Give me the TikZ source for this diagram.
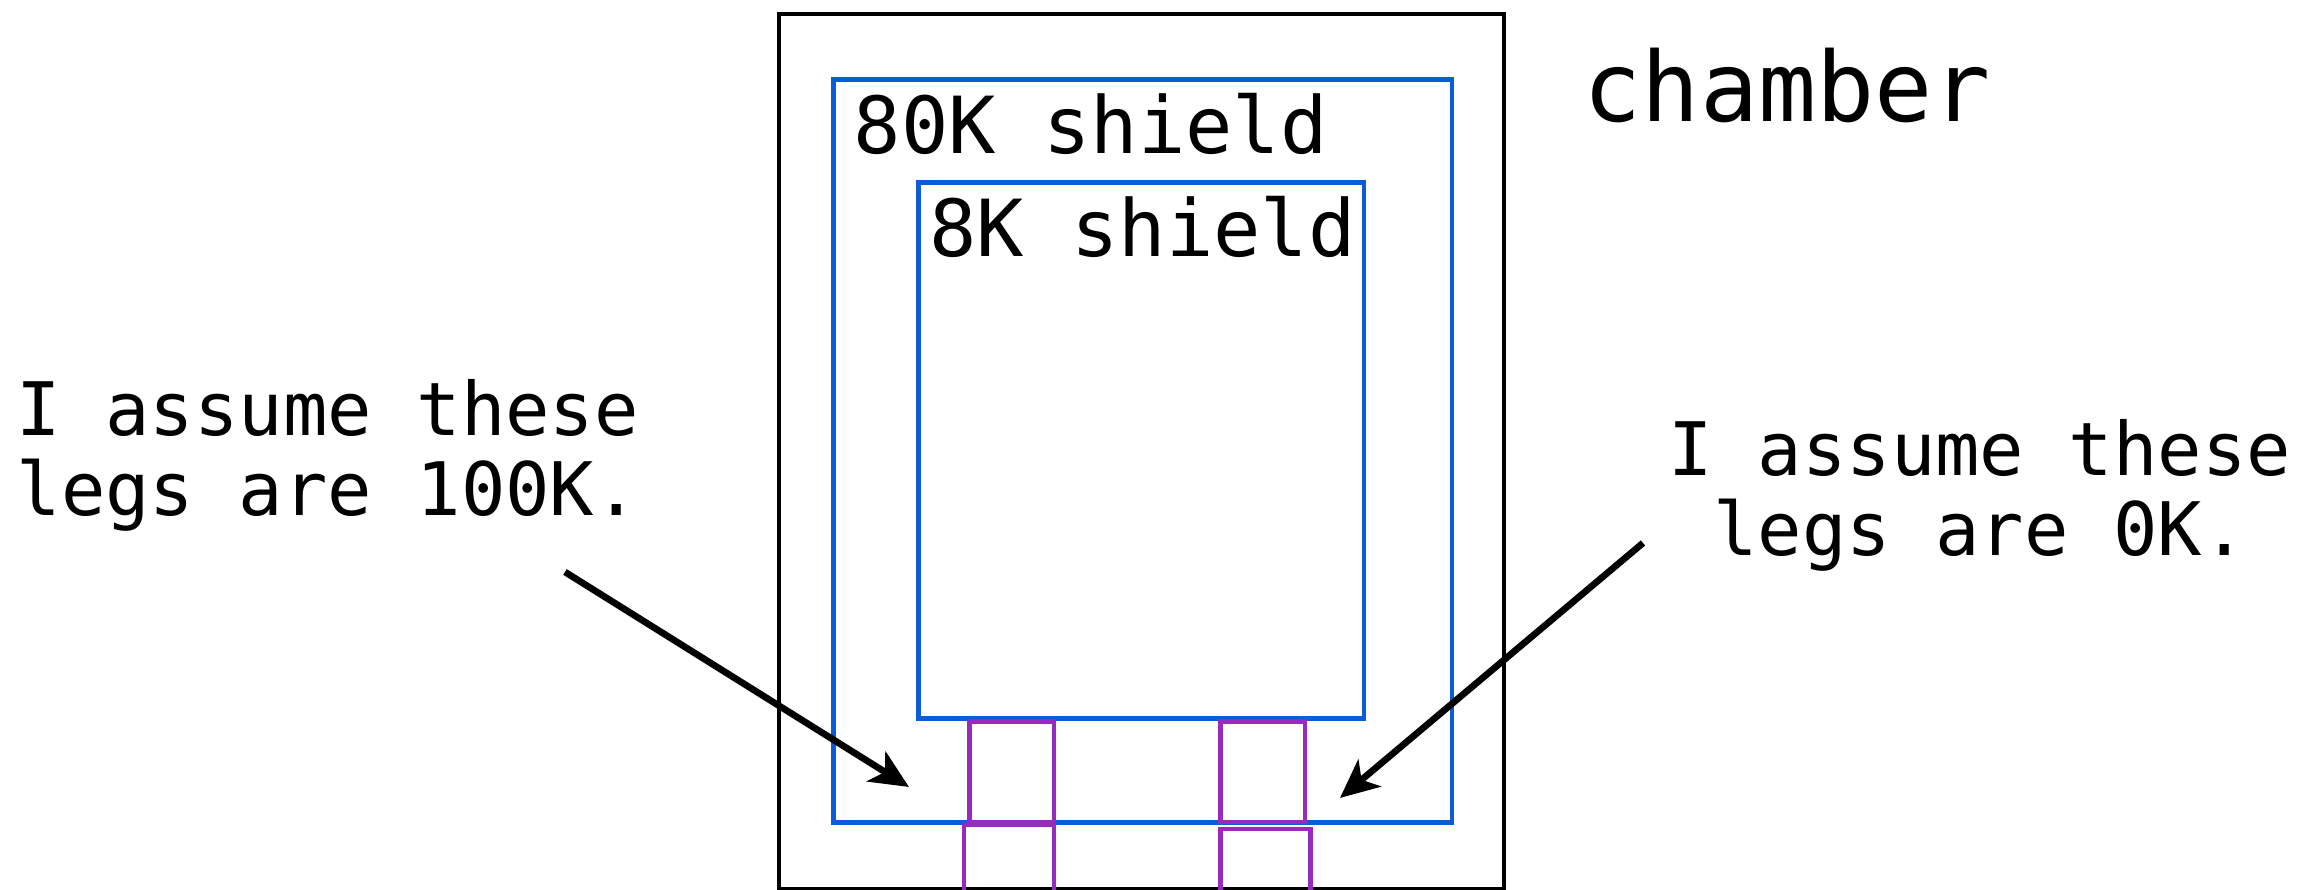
\documentclass[tikz,border=0pt]{standalone}
\usepackage{fontspec}
\setmonofont{DejaVu Sans Mono}
\usetikzlibrary{arrows.meta}
\definecolor{shieldblue}{RGB}{10,92,216}
\definecolor{legpurple}{RGB}{153,42,190}

\begin{document}
\begin{tikzpicture}[
    wall/.style={draw, line width=1.15pt, inner sep=0pt},
    shield/.style={draw=shieldblue, line width=1.3pt, inner sep=0pt},
    leg/.style={draw=legpurple, line width=1.25pt, inner sep=0pt},
    label/.style={font=\ttfamily\fontsize{22.4}{27}\selectfont, inner sep=0pt, anchor=base west},
    note/.style={font=\ttfamily\fontsize{21}{23}\selectfont, inner sep=0pt},
    pointer/.style={-{Stealth[length=11pt, width=10pt, inset=3pt]}, line width=1.9pt}
]
    \useasboundingbox (0,0) rectangle (23.11,8.90);
    \clip (0,0) rectangle (23.11,8.90);

    % chamber and shields
    \node[wall, minimum width=7.25cm, minimum height=8.75cm] (chamber) at (11.415,4.385) {};
    \node[shield, minimum width=6.185cm, minimum height=7.43cm] (shield80) at (11.4275,4.39) {};
    \node[shield, minimum width=4.455cm, minimum height=5.36cm] (shield8) at (11.4125,4.395) {};

    % legs
    \foreach \x/\n in {10.1175/1, 12.6275/2} {
        \node[leg, minimum width=0.845cm, minimum height=1.005cm] (upleg\n) at (\x,1.1825) {};
    }
    \foreach \x/\w/\y/\h/\n in {10.09/0.90/0.175/0.95/1, 12.655/0.90/0.155/0.91/2} {
        \node[leg, minimum width=\w cm, minimum height=\h cm] (lowleg\n) at (\x,\y) {};
    }

    % labels
    \node[label, font=\ttfamily\fontsize{27.5}{33}\selectfont] (chamberlbl) at (15.83,7.68) {chamber};
    \node[label] (shield80lbl) at (8.53,7.36) {80K shield};
    \node[label] (shield8lbl) at (9.285,6.33) {8K shield};
    \node[note, align=left, anchor=base west] (noteL) at (0.16,3.74) {I assume these\\legs are 100K.};
    \node[note, align=center, anchor=base] (noteR) at (19.80,3.34) {I assume these\\legs are 0K.};

    % arrows
    \coordinate (fromL) at (5.65,3.18);
    \coordinate (tipL) at (9.09,1.03);
    \coordinate (fromR) at (16.43,3.47);
    \coordinate (tipR) at (13.40,0.92);
    \draw[pointer] (fromL) -- (tipL);
    \draw[pointer] (fromR) -- (tipR);
\end{tikzpicture}
\end{document}
